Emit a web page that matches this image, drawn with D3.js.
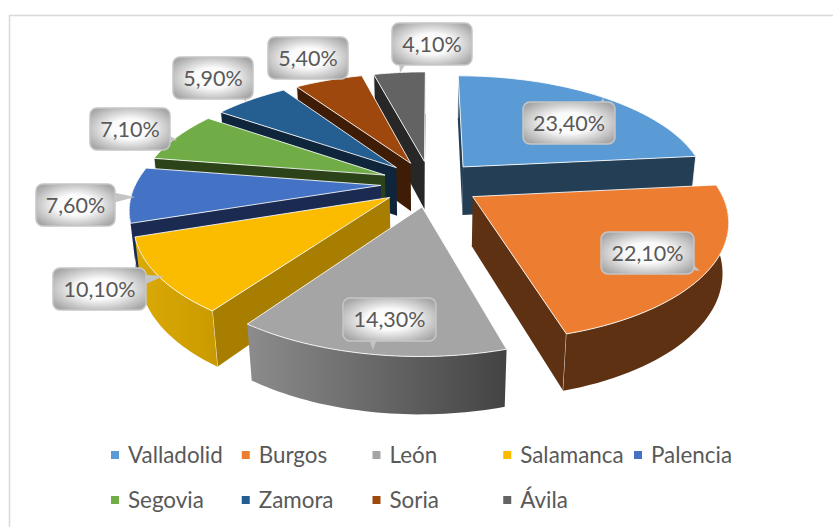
<!DOCTYPE html>
<html>
<head>
<meta charset="utf-8">
<script src="https://cdn.jsdelivr.net/npm/d3@7"></script>
<style>
  html, body { margin: 0; padding: 0; background: #fff; }
  svg { display: block; font-family: Lato, "Open Sans", sans-serif; }
</style>
</head>
<body>
<svg id="chart" width="833" height="527"></svg>
<script>
const provinces = ["Valladolid", "Burgos", "León", "Salamanca", "Palencia", "Segovia", "Zamora", "Soria", "Ávila"];
const shares = [23.4, 22.1, 14.3, 10.1, 7.6, 7.1, 5.9, 5.4, 4.1];
const colors = ["#5b9bd5", "#ed7d31", "#a5a5a5", "#fbbc00", "#4472c4", "#70ad47", "#255e91", "#9e480e", "#636363"];
const cutColors = ["#233e55", "#5e3113", "#444", "#a87e00", "#1a2a50", "#2c4319", "#0e253b", "#3f1c05", "#272727"];
// outer wall gradient, left to right
const wallLeft = ["#233e55", "#5e3113", "#8c8c8c", "#dcaa06", "#1a2a50", "#2c4319", "#0e253b", "#3f1c05", "#272727"];
const wallRight = ["#233e55", "#5e3113", "#434343", "#c99a00", "#1a2a50", "#2c4319", "#0e253b", "#3f1c05", "#272727"];

// callout boxes [x, y, w, h] and the tip of their tails
const labelBoxes = [[523, 102, 92, 42], [601, 232, 93, 42], [343, 298, 93, 43], [53, 268, 93, 42], [36, 184, 79, 42],
                    [90, 108, 80, 42], [173, 57, 80, 42], [268, 37, 80, 42], [392, 23, 80, 42]];
const labelTips = [[603, 98], [700, 271], [373, 350], [164, 276], [135, 197], [177, 140], [246, 102], [330, 80], [400, 73]];

const svg = d3.select("#chart");

const cx = 430.6, cy = 183.5, rx = 245, ry = 113, depth = 50;
const persp = 0.18, zPersp = 0.02, explode = 0.203;

// ground plane (X right, Y away from viewer, z down) to screen
function project(X, Y, z) {
  const s = 1 / (1 + persp * Y + zPersp * z);
  return [cx + rx * X * s, cy - ry * Y * s + depth * z * s];
}

const line = d3.line();
const pie = d3.pie().sort(null).value(d => d)(shares);

const slices = pie.map((p, i) => {
  const mid = (p.startAngle + p.endAngle) / 2;
  return {
    i,
    a0: p.startAngle,
    a1: p.endAngle,
    ax: explode * Math.sin(mid),
    ay: explode * Math.cos(mid)
  };
});

const rim = (s, a) => [s.ax + Math.sin(a), s.ay + Math.cos(a)];
const arcAngles = (a0, a1) => d3.range(0, 41).map(k => a0 + (a1 - a0) * k / 40);

const defs = svg.append("defs");

slices.forEach(s => {
  const g = defs.append("linearGradient").attr("id", "wall" + s.i);
  g.append("stop").attr("offset", 0).attr("stop-color", wallLeft[s.i]);
  g.append("stop").attr("offset", 1).attr("stop-color", wallRight[s.i]);
});

const glow = defs.append("radialGradient").attr("id", "callout").attr("r", 0.62);
glow.append("stop").attr("offset", 0).attr("stop-color", "#fff");
glow.append("stop").attr("offset", 0.4).attr("stop-color", "#fafafa");
glow.append("stop").attr("offset", 1).attr("stop-color", "#a6a6a6");

// chart frame, runs off the right and the bottom of the page
svg.append("path")
   .attr("d", "M9.5,527V15.5H833")
   .attr("fill", "none")
   .attr("stroke", "#d9d9d9")
   .attr("stroke-width", 1.5);

const order = slices.slice().sort((a, b) => b.ay - a.ay);

const pies = svg.selectAll("g.slice")
                .data(order)
                .enter()
                .append("g")
                .attr("class", "slice");

const camY = -1 / persp;

pies.each(function(s) {
  const g = d3.select(this);

  // side cuts, only the ones that turn towards the viewer
  [[s.a0, -1], [s.a1, 1]].forEach(([a, sign]) => {
    const nx = sign * Math.cos(a), ny = -sign * Math.sin(a);
    if (nx * (0 - s.ax) + ny * (camY - s.ay) <= 0) return;
    const [rX, rY] = rim(s, a);
    const pts = [project(s.ax, s.ay, 0), project(rX, rY, 0), project(rX, rY, 1), project(s.ax, s.ay, 1)];
    g.append("path")
     .attr("d", line(pts) + "Z")
     .attr("fill", cutColors[s.i]);
    g.append("path")
     .attr("d", line([pts[1], pts[2]]))
     .attr("stroke", "#fff")
     .attr("stroke-opacity", 0.8)
     .attr("fill", "none");
  });

  // outer wall, front half only
  const from = Math.max(s.a0, Math.PI / 2), to = Math.min(s.a1, 3 * Math.PI / 2);
  if (to > from) {
    const angles = arcAngles(from, to);
    const upper = angles.map(a => project(...rim(s, a), 0));
    const lower = angles.map(a => project(...rim(s, a), 1)).reverse();
    g.append("path")
     .attr("d", line(upper.concat(lower)) + "Z")
     .attr("fill", `url(#wall${s.i})`);
  }

  // top face
  const top = [project(s.ax, s.ay, 0)].concat(arcAngles(s.a0, s.a1).map(a => project(...rim(s, a), 0)));
  g.append("path")
   .attr("d", line(top) + "Z")
   .attr("fill", colors[s.i])
   .attr("stroke", "#fff")
   .attr("stroke-opacity", 0.85)
   .attr("stroke-width", 1)
   .attr("stroke-linejoin", "round");
});

// data labels
const labels = svg.selectAll("g.label")
                  .data(slices)
                  .enter()
                  .append("g")
                  .attr("class", "label");

labels.append("path")
      .attr("d", s => {
        const [x, y, w, h] = labelBoxes[s.i];
        const [tx, ty] = labelTips[s.i];
        const bx = Math.max(x + 14, Math.min(x + w - 14, tx));
        const by = Math.max(y + 14, Math.min(y + h - 14, ty));
        // wedge base sits across the box side nearest to the tip
        const along = (ty > y && ty < y + h);
        const base = along
          ? [[bx, by - 8], [bx, by + 8]]
          : [[bx - 8, by], [bx + 8, by]];
        return line([base[0], [tx, ty], base[1]]) + "Z";
      })
      .attr("fill", "#c4c4c4");

labels.append("rect")
      .attr("x", s => labelBoxes[s.i][0])
      .attr("y", s => labelBoxes[s.i][1])
      .attr("width", s => labelBoxes[s.i][2])
      .attr("height", s => labelBoxes[s.i][3])
      .attr("rx", 7)
      .attr("fill", "url(#callout)")
      .attr("stroke", "#c6c6c6")
      .attr("stroke-width", 1.5);

labels.append("text")
      .attr("x", s => labelBoxes[s.i][0] + labelBoxes[s.i][2] / 2)
      .attr("y", s => labelBoxes[s.i][1] + labelBoxes[s.i][3] / 2 + 7.5)
      .attr("text-anchor", "middle")
      .attr("font-size", 21.5)
      .attr("fill", "#595959")
      .text(s => shares[s.i].toFixed(2).replace(".", ",") + "%");

// legend
const legendX = d3.scalePoint().domain(d3.range(5)).range([111, 634]);
const legendY = d3.scalePoint().domain([0, 1]).range([455, 500]);

const legend = svg.selectAll("g.legend")
                  .data(provinces)
                  .enter()
                  .append("g")
                  .attr("class", "legend")
                  .attr("transform", (d, i) => `translate(${legendX(i % 5)},${legendY(Math.floor(i / 5))})`);

legend.append("rect")
      .attr("y", -4)
      .attr("width", 8)
      .attr("height", 8)
      .attr("fill", (d, i) => colors[i]);

legend.append("text")
      .attr("x", 17)
      .attr("y", 8)
      .attr("font-size", 22.4)
      .attr("fill", "#595959")
      .text(d => d);
</script>
</body>
</html>
